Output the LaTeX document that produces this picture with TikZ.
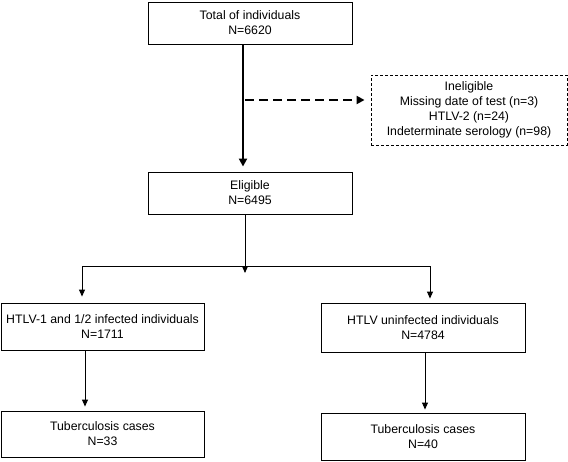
\documentclass[tikz,border=0pt]{standalone}
\usepackage{fontspec}
\setmainfont{Liberation Sans}
\usetikzlibrary{arrows.meta}

\begin{document}
\begin{tikzpicture}[x=1pt,y=-1pt,
        box/.style={draw, line width=0.9pt, align=center, inner sep=0pt,
            font=\fontsize{12.3}{15}\selectfont},
        dashbox/.style={box, dash pattern=on 3pt off 2pt},
        link/.style={line width=0.9pt},
        arr/.style={link, -{Triangle[length=7pt,width=6pt]}},
        bigarr/.style={line width=2.6pt, -{Triangle[length=8pt,width=8pt]}},
        dasharr/.style={bigarr, dash pattern=on 9pt off 5pt}]
        \useasboundingbox (0,0) rectangle (568,461);

        \node[box, minimum width=204pt, minimum height=42pt] (total) at (250,23) {Total of individuals\\N=6620};
        \node[box, minimum width=204pt, minimum height=42pt] (elig) at (250,193) {Eligible\\N=6495};
        \node[dashbox, minimum width=196pt, minimum height=70pt] (inel) at (469,110)
            {Ineligible\\Missing date of test (n=3)\\HTLV-2 (n=24)\\Indeterminate serology (n=98)};
        \node[box, minimum width=203pt, minimum height=47pt] (hiv) at (102.5,326.5) {HTLV-1 and 1/2 infected individuals\\N=1711};
        \node[box, minimum width=204pt, minimum height=49pt] (neg) at (423,327.5) {HTLV uninfected individuals\\N=4784};
        \node[box, minimum width=203pt, minimum height=46pt] (tbpos) at (102.5,434) {Tuberculosis cases\\N=33};
        \node[box, minimum width=204pt, minimum height=47pt] (tbneg) at (423,436.5) {Tuberculosis cases\\N=40};

        \coordinate (split) at (243,100);
        \coordinate (fork) at (245,273);
        \coordinate (lb) at (82,266);
        \coordinate (rb) at (430,266);

        \draw[bigarr, shorten >=5pt] ([xshift=-7pt]total.south) -- ([xshift=-7pt]elig.north);
        \draw[dasharr, shorten >=6pt] ([xshift=2pt]split) -- (split -| inel.west);
        \draw[arr] ([xshift=-5pt]elig.south) -- (fork);
        \draw[link] (lb) -- (rb);
        \draw[arr, shorten >=6pt] (lb) -- (lb |- hiv.north);
        \draw[arr, shorten >=4pt] (rb) -- (rb |- neg.north);
        \draw[arr, shorten >=4pt] ([xshift=-17.5pt]hiv.south) -- ([xshift=-17.5pt]tbpos.north);
        \draw[arr, shorten >=3pt] ([xshift=2pt]neg.south) -- ([xshift=2pt]tbneg.north);
    \end{tikzpicture}
\end{document}
